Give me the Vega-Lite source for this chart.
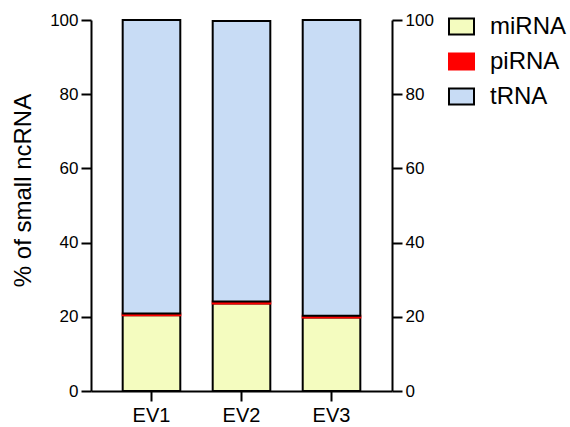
{
  "$schema": "https://vega.github.io/schema/vega-lite/v6.json",
  "width": 301,
  "height": 371,
  "autosize": {"type": "none"},
  "padding": {"left": 91, "top": 20, "right": 178, "bottom": 36},
  "background": "white",
  "config": {
    "view": {"stroke": null},
    "font": "Liberation Sans",
    "axis": {"domainColor": "black", "domainWidth": 2, "tickColor": "black", "tickWidth": 2, "tickSize": 10, "labelColor": "black", "labelFontSize": 17, "grid": false, "labelFont": "Liberation Sans", "titleFont": "Liberation Sans"}
  },
  "data": {
    "values": [
      {"sample": "EV1", "type": "miRNA", "ord": 1, "pct": 20.4},
      {"sample": "EV1", "type": "piRNA", "ord": 2, "pct": 0.5},
      {"sample": "EV1", "type": "tRNA", "ord": 3, "pct": 79.1},
      {"sample": "EV2", "type": "miRNA", "ord": 1, "pct": 23.6},
      {"sample": "EV2", "type": "piRNA", "ord": 2, "pct": 0.5},
      {"sample": "EV2", "type": "tRNA", "ord": 3, "pct": 75.6},
      {"sample": "EV3", "type": "miRNA", "ord": 1, "pct": 19.8},
      {"sample": "EV3", "type": "piRNA", "ord": 2, "pct": 0.5},
      {"sample": "EV3", "type": "tRNA", "ord": 3, "pct": 79.7}
    ]
  },
  "layer": [
    {
      "mark": {"type": "bar", "strokeWidth": 2},
      "encoding": {
        "x": {"field": "sample", "type": "nominal", "scale": {"paddingInner": 0.36, "paddingOuter": 0.352},
              "axis": {"title": null, "labelAngle": 0, "labelFontSize": 20, "labelPadding": 4}},
        "y": {"field": "pct", "type": "quantitative", "stack": "zero", "scale": {"domain": [0, 100], "nice": false},
              "axis": {"title": "% of small ncRNA", "titleFontSize": 24, "titleFontWeight": "normal", "titleColor": "black", "titlePadding": 14, "titleY": 170, "values": [0, 20, 40, 60, 80, 100], "labelPadding": 3}},
        "order": {"field": "ord", "type": "quantitative"},
        "fill": {"field": "type", "type": "nominal",
                 "scale": {"domain": ["miRNA", "piRNA", "tRNA"], "range": ["#f4fcbf", "#ff0000", "#c8dcf5"]},
                 "legend": {"title": null, "orient": "none", "legendX": 357, "legendY": -7, "labelFontSize": 24, "labelColor": "black", "labelOffset": 15, "rowPadding": 9, "symbolType": "M-1,-0.64H1V0.64H-1Z", "symbolSize": 625, "symbolStrokeWidth": 2}},
        "stroke": {"field": "type", "type": "nominal",
                   "scale": {"domain": ["miRNA", "piRNA", "tRNA"], "range": ["black", "#ff0000", "black"]},
                   "legend": {"title": null, "orient": "none", "legendX": 357, "legendY": -7, "labelFontSize": 24, "labelColor": "black", "labelOffset": 15, "rowPadding": 9, "symbolType": "M-1,-0.64H1V0.64H-1Z", "symbolSize": 625, "symbolStrokeWidth": 2}}
      }
    },
    {
      "mark": {"type": "bar", "opacity": 0},
      "encoding": {
        "x": {"field": "sample", "type": "nominal"},
        "y": {"field": "pct", "type": "quantitative", "stack": "zero",
              "axis": {"orient": "right", "title": null, "values": [0, 20, 40, 60, 80, 100], "labelPadding": 3}}
      }
    }
  ],
  "resolve": {"axis": {"y": "independent"}}
}
